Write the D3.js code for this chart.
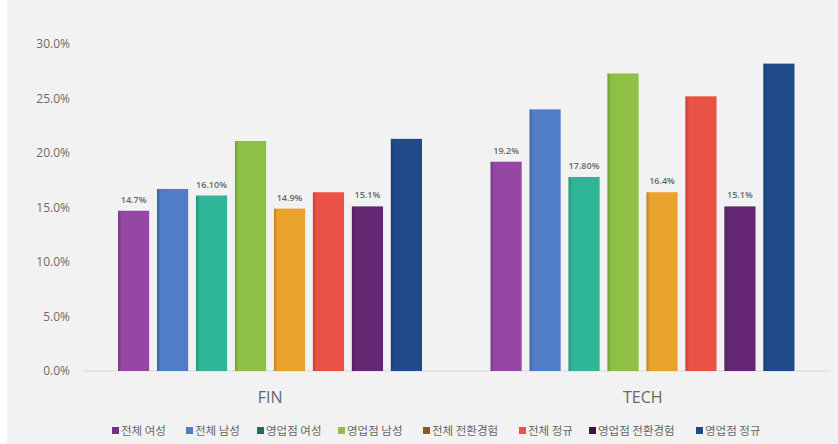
<!DOCTYPE html>
<html><head><meta charset="utf-8">
<script src="https://cdn.jsdelivr.net/npm/d3@7"></script>
<style>html,body{margin:0;padding:0;background:#fff;}svg{display:block;}</style>
</head><body>
<svg id="c" width="838" height="444"></svg>
<script>
const groups = ["FIN", "TECH"];
const seriesNames = ["전체 여성", "전체 남성", "영업점 여성", "영업점 남성", "전체 전환경험", "전체 정규", "영업점 전환경험", "영업점 정규"];
const finValues = [14.7, 16.7, 16.1, 21.1, 14.9, 16.4, 15.1, 21.3];
const techValues = [19.2, 24.0, 17.8, 27.3, 16.4, 25.2, 15.1, 28.2];
const labelTexts = [["14.7%", "", "16.10%", "", "14.9%", "", "15.1%", ""], ["19.2%", "", "17.80%", "", "16.4%", "", "15.1%", ""]];
const yTicks = [0, 5, 10, 15, 20, 25, 30];
const barColors = ["#9447a3", "#4f7dc6", "#2fb597", "#8dc044", "#e9a22b", "#eb5246", "#652673", "#1f4b8b"];
const legendColors = ["#7a2d8c", "#4f7dc6", "#1e6e58", "#8dc044", "#8a5a22", "#eb5246", "#3e1049", "#1f4b8b"];

const svg = d3.select("#c");
svg.append("rect").attr("x", 7).attr("y", 0).attr("width", 831).attr("height", 444).attr("fill", "#f2f2f2");

const m = {left: 84, right: 9, top: 44, bottom: 73};
const W = 838, H = 444;
const y = d3.scaleLinear().domain([0, 30]).range([H - m.bottom, m.top]);
const x0 = d3.scaleBand().domain(groups).range([m.left, W - m.right]).paddingInner(0).paddingOuter(0);
const x1 = d3.scaleBand().domain(d3.range(seriesNames.length)).range([34, 338]).paddingInner(0.2).paddingOuter(0);

const defs = svg.append("defs");
barColors.forEach((c, i) => {
  const g = defs.append("linearGradient").attr("id", "g" + i).attr("x1", 0).attr("x2", 1).attr("y1", 0).attr("y2", 0);
  g.append("stop").attr("offset", 0).attr("stop-color", d3.color(c).darker(0.6));
  g.append("stop").attr("offset", 0.12).attr("stop-color", c);
  g.append("stop").attr("offset", 1).attr("stop-color", c);
});

// y axis
const yAxis = d3.axisLeft(y).tickValues(yTicks).tickFormat(d => d.toFixed(1) + "%").tickSize(0).tickPadding(14);
const ya = svg.append("g").attr("transform", `translate(${m.left},0)`).call(yAxis);
ya.select(".domain").remove();
ya.selectAll("text").attr("font-family", "'Open Sans', 'Noto Sans', sans-serif").attr("font-size", 12).attr("fill", "#6b6b6b");

// baseline
svg.append("line").attr("x1", m.left).attr("x2", W - m.right).attr("y1", y(0)).attr("y2", y(0)).attr("stroke", "#d9d9d9").attr("stroke-width", 1);

const data = [finValues, techValues];
groups.forEach((gname, gi) => {
  const g = svg.append("g").attr("transform", `translate(${x0(gname)},0)`);
  g.selectAll("rect").data(data[gi]).join("rect")
    .attr("x", (d, i) => x1(i)).attr("width", x1.bandwidth())
    .attr("y", d => y(d)).attr("height", d => y(0) - y(d))
    .attr("fill", (d, i) => "url(#g" + i + ")");
  g.selectAll("text.lbl").data(data[gi]).join("text").attr("class", "lbl")
    .attr("x", (d, i) => x1(i) + x1.bandwidth() / 2).attr("y", d => y(d) - 8)
    .attr("text-anchor", "middle").attr("font-family", "'Open Sans', 'Noto Sans', sans-serif")
    .attr("font-size", 9).attr("font-weight", 600).attr("fill", "#666")
    .text((d, i) => labelTexts[gi][i]);
});

// x axis labels
const xAxis = d3.axisBottom(x0).tickSize(0).tickPadding(21);
const xa = svg.append("g").attr("transform", `translate(0,${y(0)})`).call(xAxis);
xa.select(".domain").remove();
xa.selectAll("text").attr("font-family", "'Open Sans', 'Noto Sans', sans-serif").attr("font-size", 16).attr("fill", "#666");

// legend
const legendX = [112, 186, 257, 338, 423, 519, 589, 696];
const lg = svg.append("g");
seriesNames.forEach((s, i) => {
  lg.append("rect").attr("x", legendX[i]).attr("y", 427).attr("width", 7).attr("height", 7).attr("fill", legendColors[i]);
  lg.append("text").attr("x", legendX[i] + 9).attr("y", 434.5)
    .attr("font-family", "'Noto Sans CJK KR', sans-serif").attr("font-size", 11.5).attr("fill", "#666").text(s);
});
</script>
</body></html>
